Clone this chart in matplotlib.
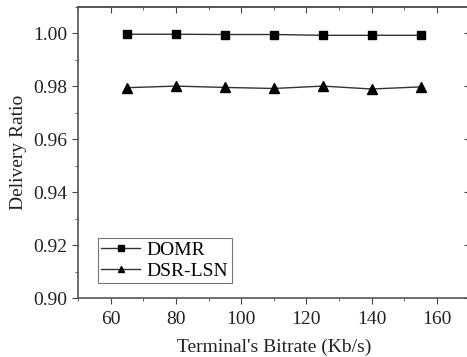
import matplotlib.pyplot as plt
from matplotlib.ticker import MultipleLocator

bitrate = [65, 80, 95, 110, 125, 140, 155]
domr = [0.9997, 0.9997, 0.9996, 0.9996, 0.9993, 0.9993, 0.9993]
dsr_lsn = [0.9795, 0.9801, 0.9796, 0.9792, 0.9801, 0.9790, 0.9798]

plt.rcParams["font.family"] = ["Liberation Serif", "DejaVu Serif"]

fig = plt.figure(figsize=(4.67, 3.57), dpi=100)
ax = fig.add_axes([78 / 467, 1 - 298 / 357, (469.6 - 78) / 467, (298 - 7) / 357])

ax.plot(bitrate, domr, color="#333333", lw=1, marker="s", ms=5.5,
        mfc="black", mec="black", label="DOMR")
ax.plot(bitrate, dsr_lsn, color="#333333", lw=1, marker="^", ms=6.5,
        mfc="black", mec="black", label="DSR-LSN")

ax.set_xlim(50, 170)
ax.set_ylim(0.90, 1.01)
ax.xaxis.set_major_locator(MultipleLocator(20))
ax.xaxis.set_minor_locator(MultipleLocator(10))
ax.yaxis.set_major_locator(MultipleLocator(0.02))
ax.yaxis.set_minor_locator(MultipleLocator(0.01))
ax.yaxis.set_major_formatter(plt.FormatStrFormatter("%.2f"))

ax.tick_params(axis="both", which="both", labelsize=14, colors="#444444",
               labelcolor="#222222")
ax.tick_params(axis="x", which="major", direction="out", length=4, top=False, pad=5)
ax.tick_params(axis="x", which="minor", direction="out", length=2, top=False)
ax.tick_params(axis="y", which="major", direction="out", length=4, right=False)
ax.tick_params(axis="y", which="minor", direction="out", length=2, right=False)

# inward ticks on top and right
ax2 = ax.secondary_xaxis("top")
ax2.xaxis.set_major_locator(MultipleLocator(20))
ax2.xaxis.set_minor_locator(MultipleLocator(10))
ax2.tick_params(which="major", direction="in", length=4, labeltop=False, colors="#444444")
ax2.tick_params(which="minor", direction="in", length=2, labeltop=False, colors="#444444")
ay2 = ax.secondary_yaxis("right")
ay2.yaxis.set_major_locator(MultipleLocator(0.02))
ay2.yaxis.set_minor_locator(MultipleLocator(0.01))
ay2.tick_params(which="major", direction="in", length=4, labelright=False, colors="#444444")
ay2.tick_params(which="minor", direction="in", length=2, labelright=False, colors="#444444")
ay2.spines["right"].set_visible(False)
ax.spines["right"].set_visible(False)
ax2.spines["top"].set_color("#555555")
ax2.spines["top"].set_linewidth(1.2)

for sp in ax.spines.values():
    sp.set_color("#555555")
    sp.set_linewidth(1.2)

ax.set_xlabel("Terminal's Bitrate (Kb/s)", fontsize=14, color="#222222", labelpad=8)
ax.set_ylabel("Delivery Ratio", fontsize=14, color="#222222", labelpad=5)

leg = ax.legend(loc="lower left", bbox_to_anchor=(0.05, 0.05), fontsize=14,
                frameon=True, fancybox=False, edgecolor="#555555",
                handlelength=2.0, borderpad=0.2, labelspacing=0.15,
                handletextpad=0.3, borderaxespad=0, markerscale=0.75)
leg.get_frame().set_linewidth(0.8)

fig.savefig("out.png", dpi=100)
